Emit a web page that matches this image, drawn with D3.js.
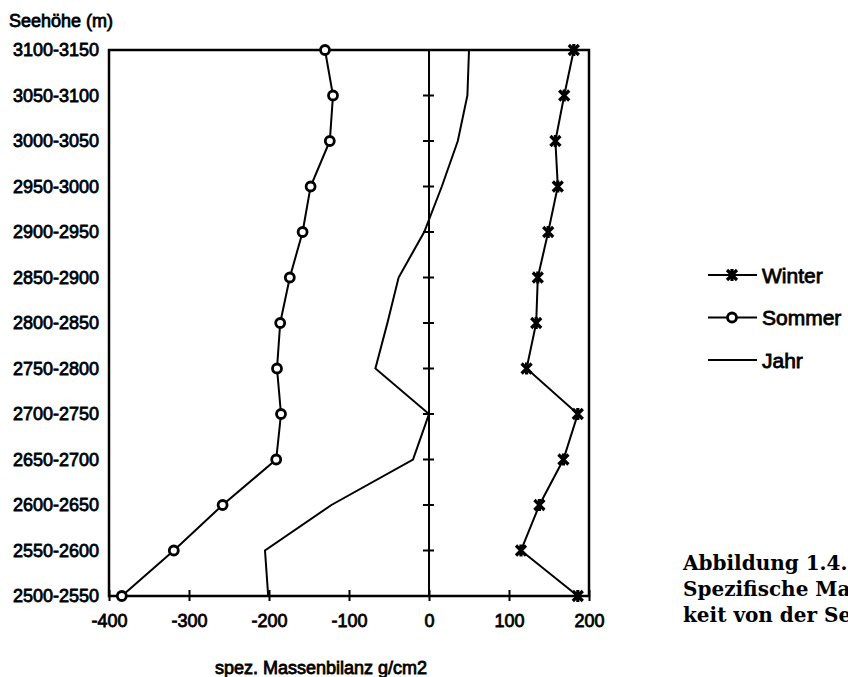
<!DOCTYPE html>
<html>
<head>
<meta charset="utf-8">
<script src="https://cdn.jsdelivr.net/npm/d3@7"></script>
<style>
  html, body { margin: 0; padding: 0; background: #fff; }
  svg { display: block; }
</style>
</head>
<body>
<svg id="chart" width="848" height="677"></svg>
<script>
// Höhenstufen von oben nach unten
var categories = ['3100-3150', '3050-3100', '3000-3050', '2950-3000', '2900-2950',
  '2850-2900', '2800-2850', '2750-2800', '2700-2750', '2650-2700',
  '2600-2650', '2550-2600', '2500-2550'];
var winter = [181, 169, 158, 161, 149, 136, 134, 122, 186, 168, 138, 115, 186];
var sommer = [-130, -120, -124, -148, -158, -174, -186, -190, -185, -191, -258, -319, -384];
var jahr = [50, 48, 36, 16, -6, -38, -52, -67, 0, -20, -122, -205, -201];
var xTicks = [-400, -300, -200, -100, 0, 100, 200];
var seriesNames = ['Winter', 'Sommer', 'Jahr'];

(function () {
  "use strict";

  var opt = {
    left: 109, right: 589, top: 50, bottom: 596,
    font: "'Liberation Sans', Arial, sans-serif",
    serif: "'DejaVu Serif', serif",
    ink: '#000'
  };

  var svg = d3.select('#chart');

  var x = d3.scaleLinear().domain([-400, 200]).range([opt.left, opt.right]);
  var y = d3.scalePoint().domain(categories).range([opt.top, opt.bottom]);

  // Schrift wirkt im Scan etwas fetter
  function label(sel) {
    return sel.attr('font-family', opt.font)
      .attr('fill', opt.ink)
      .attr('stroke', opt.ink)
      .attr('stroke-width', 0.8);
  }

  // Rahmen
  svg.append('rect')
    .attr('x', opt.left).attr('y', opt.top)
    .attr('width', opt.right - opt.left)
    .attr('height', opt.bottom - opt.top)
    .attr('fill', 'none')
    .attr('stroke', opt.ink)
    .attr('stroke-width', 2.5);

  // x-Achse
  var xAxis = d3.axisBottom(x)
    .tickValues(xTicks)
    .tickFormat(function (d) { return String(d); })
    .tickSize(0)
    .tickPadding(18);
  var gx = svg.append('g')
    .attr('transform', 'translate(0,' + opt.bottom + ')')
    .call(xAxis);
  gx.select('.domain').remove();
  gx.selectAll('.tick text').call(label).attr('font-size', 18);
  gx.selectAll('.tick').append('line')
    .attr('y1', -6).attr('y2', 5)
    .attr('stroke', opt.ink).attr('stroke-width', 2);

  // Nulllinie mit Teilstrichen
  svg.append('line')
    .attr('x1', x(0)).attr('x2', x(0))
    .attr('y1', opt.top).attr('y2', opt.bottom)
    .attr('stroke', opt.ink).attr('stroke-width', 2);
  svg.append('g').selectAll('line')
    .data(categories.slice(1, -1))
    .enter().append('line')
    .attr('x1', x(0) - 6).attr('x2', x(0) + 5)
    .attr('y1', function (d) { return y(d); })
    .attr('y2', function (d) { return y(d); })
    .attr('stroke', opt.ink).attr('stroke-width', 2);

  // y-Beschriftung
  svg.append('g').selectAll('text')
    .data(categories)
    .enter().append('text')
    .call(label)
    .attr('font-size', 18)
    .attr('text-anchor', 'end')
    .attr('dominant-baseline', 'central')
    .attr('x', opt.left - 10)
    .attr('y', function (d) { return y(d); })
    .text(function (d) { return d; });

  svg.append('text').call(label)
    .attr('font-size', 18)
    .attr('x', 9).attr('y', 27)
    .text('Seehöhe (m)');

  svg.append('text').call(label)
    .attr('font-size', 18)
    .attr('text-anchor', 'middle')
    .attr('x', 321).attr('y', 674)
    .text('spez. Massenbilanz g/cm2');

  var line = d3.line()
    .x(function (d) { return x(d.v); })
    .y(function (d) { return y(d.c); });

  function rows(values) {
    return values.map(function (v, i) { return { v: v, c: categories[i] }; });
  }

  function starPath(s) {
    return 'M' + (-s) + ',' + (-s) + 'L' + s + ',' + s +
      'M' + (-s) + ',' + s + 'L' + s + ',' + (-s) +
      'M0,' + (-s * 1.2) + 'L0,' + (s * 1.2);
  }

  function drawStar(g, cx, cy) {
    g.append('path')
      .attr('transform', 'translate(' + cx + ',' + cy + ')')
      .attr('d', starPath(5))
      .attr('fill', 'none')
      .attr('stroke', opt.ink)
      .attr('stroke-width', 3.2);
  }

  function drawCircle(g, cx, cy) {
    g.append('circle')
      .attr('cx', cx).attr('cy', cy).attr('r', 4.5)
      .attr('fill', '#fff')
      .attr('stroke', opt.ink)
      .attr('stroke-width', 2.8);
  }

  var series = [
    { name: seriesNames[0], values: winter, marker: drawStar },
    { name: seriesNames[1], values: sommer, marker: drawCircle },
    { name: seriesNames[2], values: jahr, marker: null }
  ];

  series.forEach(function (s) {
    var g = svg.append('g').attr('class', 'series-' + s.name);
    var data = rows(s.values);
    g.append('path')
      .datum(data)
      .attr('d', line)
      .attr('fill', 'none')
      .attr('stroke', opt.ink)
      .attr('stroke-width', 2);
    if (s.marker) {
      data.forEach(function (d) { s.marker(g, x(d.v), y(d.c)); });
    }
  });

  // Legende
  var legend = svg.append('g').attr('class', 'legend');
  series.forEach(function (s, i) {
    var ly = 275 + i * 42.5;
    legend.append('line')
      .attr('x1', 708).attr('x2', 757)
      .attr('y1', ly).attr('y2', ly)
      .attr('stroke', opt.ink).attr('stroke-width', 2);
    if (s.marker) { s.marker(legend, 732, ly); }
    legend.append('text').call(label)
      .attr('font-size', 21)
      .attr('x', 762).attr('y', ly)
      .attr('dominant-baseline', 'central')
      .text(s.name);
  });

  // Bildunterschrift, im Original rechts vom Bildrand abgeschnitten
  var caption = ['Abbildung 1.4.', 'Spezifische Massenbilanz in Abhängig-', 'keit von der Seehöhe'];
  svg.append('g').selectAll('text')
    .data(caption)
    .enter().append('text')
    .attr('font-family', opt.serif)
    .attr('font-size', 20)
    .attr('font-weight', 'bold')
    .attr('fill', opt.ink)
    .attr('x', 683)
    .attr('y', function (d, i) { return 570 + i * 26; })
    .text(function (d) { return d; });
}());
</script>
</body>
</html>
